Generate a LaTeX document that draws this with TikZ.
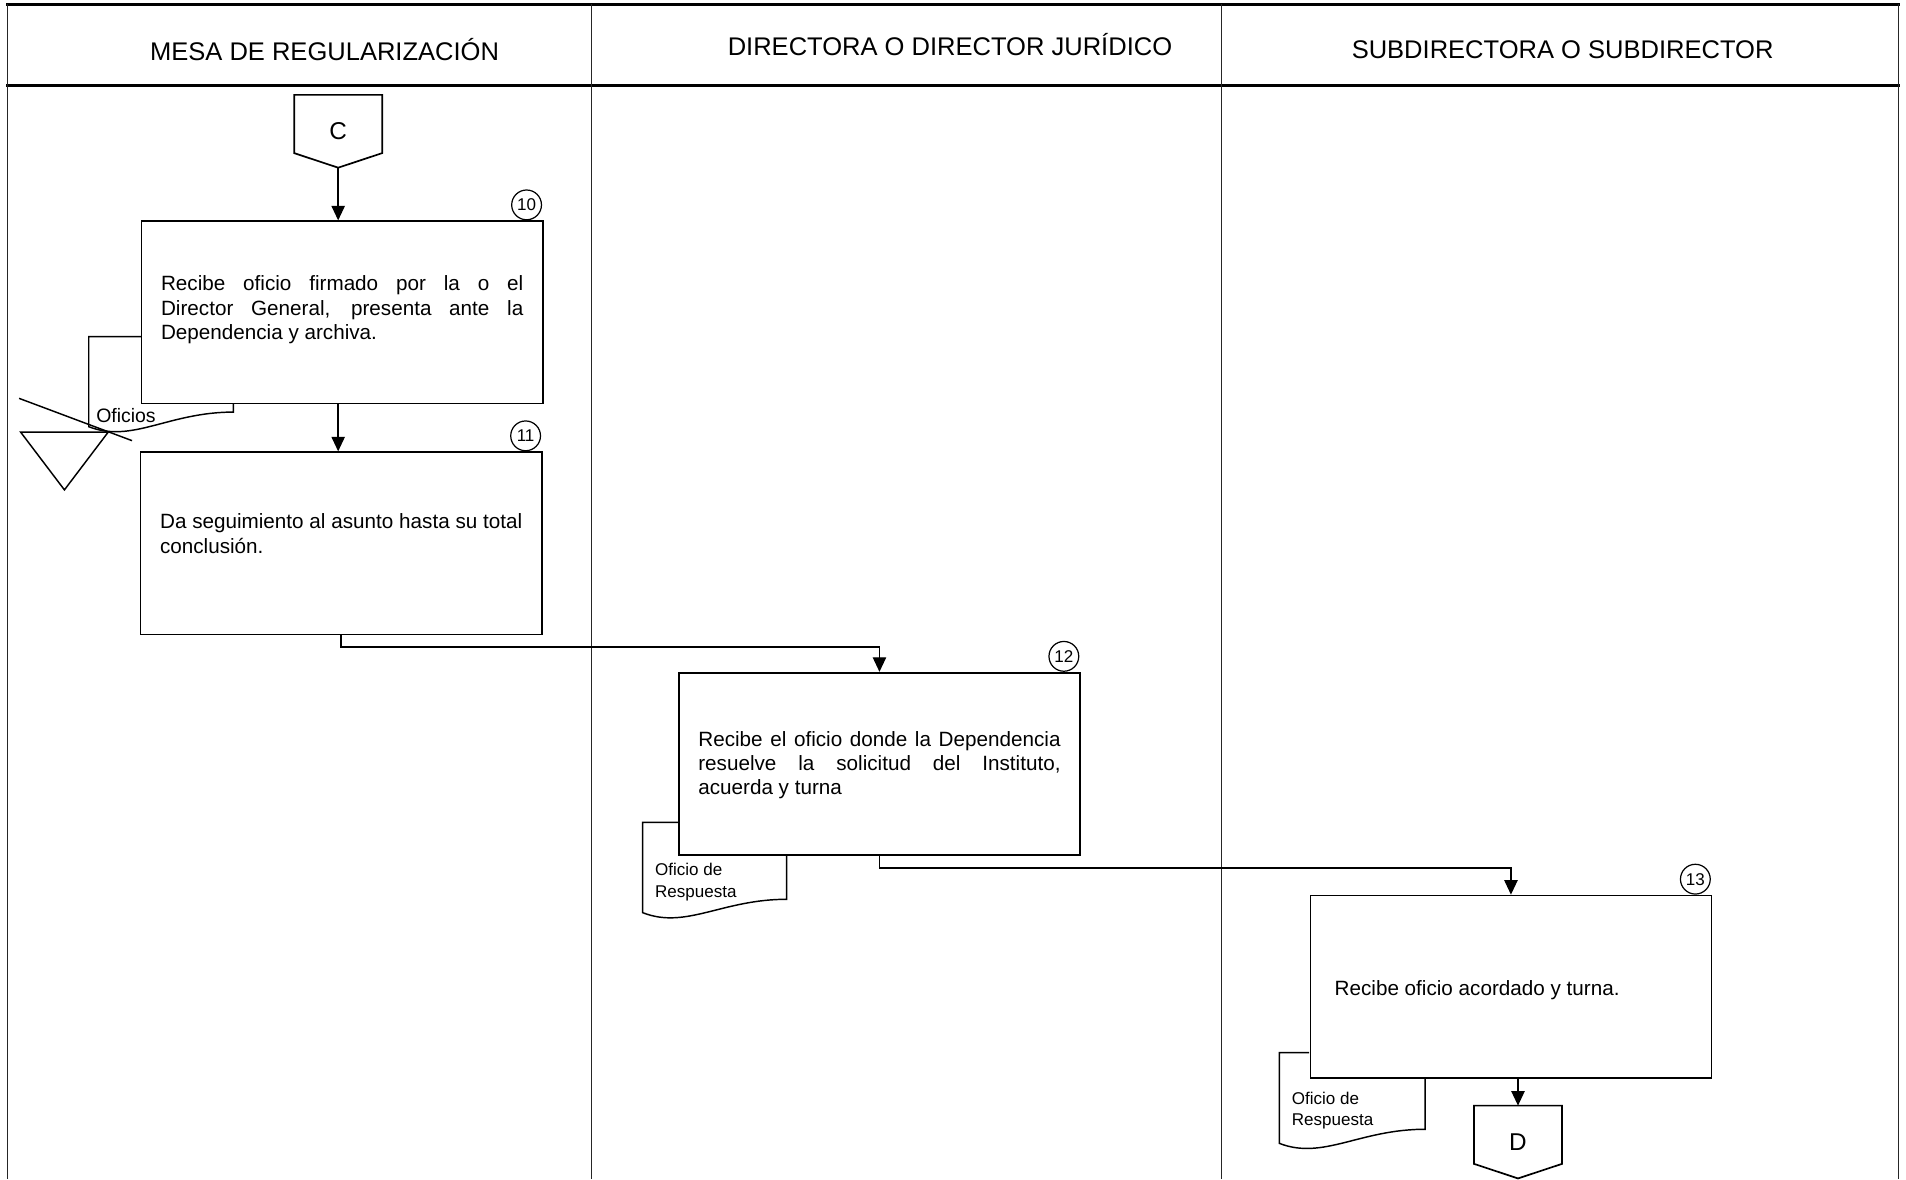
\documentclass[tikz,border=0pt]{standalone}
\usepackage{fontspec}
\setmainfont{Liberation Sans}
\usetikzlibrary{calc}
\usetikzlibrary{arrows.meta}
\usetikzlibrary{positioning}
\newcommand{\docshape}[7]{\draw[docline] (#1,#2) -- (#3,#2) -- (#3,#4) .. controls ({#3+0.3*(#5-#3)},{#4+14}) and ({#3+0.55*(#5-#3)},{#6}) .. (#5,#6) -- (#5,#7);}
\newcommand{\offpage}[1]{\draw[boxline] (#1.north west) -- (#1.north east) -- ($(#1.south east)+(0,-12)$) -- (#1.south) -- ($(#1.south west)+(0,-12)$) -- cycle;}
\tikzset{
  boxline/.style={line width=1.4pt},
  docline/.style={line width=1.2pt},
  laneline/.style={line width=1pt, black!85},
  flow/.style={line width=1.2pt, -{Triangle[length=12pt,width=11pt]}},
  lanehead/.style={font=\fontsize{21}{25}\selectfont, anchor=base, inner sep=0pt},
  procbox/.style={draw, line width=1.4pt, minimum width=330pt, minimum height=150pt, inner sep=0pt},
  proctext/.style={text width=298pt, align=justify, inner sep=0pt, font=\fontsize{17}{20}\selectfont},
  stepnum/.style={draw, circle, line width=1pt, minimum size=24.5pt, inner sep=0pt, font=\fontsize{14}{14}\selectfont},
  offnode/.style={minimum width=72pt, minimum height=59.5pt, inner sep=0pt, font=\fontsize{20}{20}\selectfont},
  doctext/.style={align=left, anchor=west, inner sep=0pt, font=\fontsize{14}{18}\selectfont},
}
\begin{document}
\begin{tikzpicture}[x=1pt, y=-1pt]
    \useasboundingbox (0,0) rectangle (1568,970);
    % lanes
    \draw[line width=3pt] (5,3.7) -- (1563,3.7);
    \draw[line width=2pt] (5,70.5) -- (1563,70.5);
    \foreach \lx in {6,486.5,1005,1562}
        \draw[laneline] (\lx,3) -- (\lx,970);
    \node[lanehead] (h1) at (267,49.5) {MESA DE REGULARIZACIÓN};
    \node[lanehead] (h2) at (781.5,45.5) {DIRECTORA O DIRECTOR JURÍDICO};
    \node[lanehead] (h3) at (1285.5,48.5) {SUBDIRECTORA O SUBDIRECTOR};
    % connector C
    \node[offnode] (C) at (278.2,108) {C};
    \offpage{C}
    % step 10
    \node[procbox] (b10) at (281.5,257) {};
    \node[proctext] (t10) at ($(b10.center)+(0,-2.1)$) {Recibe oficio firmado por la o el\linebreak Director General, presenta ante la\linebreak Dependencia y archiva.};
    \node[stepnum, anchor=south] (n10) at ($(b10.north east)+(-14,0)$) {10};
    \draw[flow] (C.south) -- (C.south |- b10.north);
    % archivo
    \docshape{116.5}{277}{73}{351}{192}{339}{331.8}
    \node[inner sep=0pt, anchor=base west, font=\fontsize{16}{16}\selectfont] (d10) at (79,347.5) {Oficios};
    \draw[docline] (15.7,327.7) -- (108.6,362.5);
    \draw[docline] (17,355.5) -- (89,355.5) -- (53,403) -- cycle;
    % step 11
    \node[procbox] (b11) at (280.7,447) {};
    \node[proctext] (t11) at ($(b11.center)+(0,-8)$) {Da seguimiento al asunto hasta su total\linebreak conclusión.};
    \node[stepnum, anchor=south] (n11) at ($(b11.north east)+(-14,0)$) {11};
    \draw[flow] (C.south |- b10.south) -- (C.south |- b11.north);
    % step 12
    \node[procbox] (b12) at (723.5,628.4) {};
    \node[proctext] (t12) at ($(b12.center)+(0,1.2)$) {Recibe el oficio donde la Dependencia\linebreak resuelve la solicitud del Instituto,\linebreak acuerda y turna};
    \node[stepnum, anchor=south] (n12) at ($(b12.north east)+(-14,0)$) {12};
    \draw[flow] (b11.south) -- ++(0,9.6) -| (b12.north);
    \docshape{558.6}{676.5}{528.7}{750.8}{647.2}{739.8}{703.4}
    \node[doctext] (d12) at (538.8,725.8) {Oficio de\\Respuesta};
    % step 13
    \node[procbox] (b13) at (1243,811.7) {};
    \node[proctext] (t13) at ($(b13.center)+(4,2.9)$) {Recibe oficio acordado y turna.};
    \node[stepnum, anchor=south] (n13) at ($(b13.north east)+(-14,0)$) {13};
    \draw[flow] (b12.south) -- ++(0,10.1) -| (b13.north);
    \docshape{1076.9}{866}{1052.5}{940.6}{1172.3}{929}{887}
    \node[doctext] (d13) at (1062.6,913.6) {Oficio de\\Respuesta};
    % connector D
    \node[offnode] (D) at (1248.8,939.5) {D};
    \offpage{D}
    \draw[flow] (D.north |- b13.south) -- (D.north);
\end{tikzpicture}
\end{document}
